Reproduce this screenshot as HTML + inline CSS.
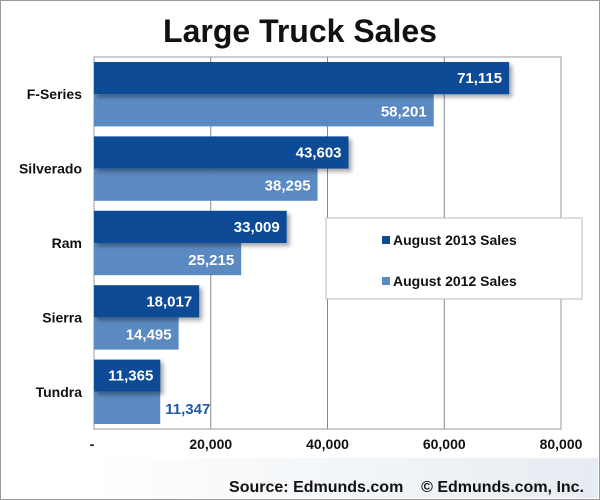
<!DOCTYPE html>
<html><head><meta charset="utf-8"><style>
body{margin:0;width:600px;height:500px;overflow:hidden;background:#fff;font-family:"Liberation Sans",Arial,sans-serif}
#frame{position:absolute;left:0;top:0;width:598px;height:498px;border:1px solid #999}
</style></head><body>
<div id="frame"></div>
<svg id="c" width="600" height="500" style="position:absolute;left:0;top:0">
<defs>
<linearGradient id="foot" x1="0" x2="1"><stop offset="0" stop-color="#fff"/><stop offset="1" stop-color="#e6ecf2"/></linearGradient>
<filter id="sh" x="-5%" y="-10%" width="115%" height="140%"><feDropShadow dx="3" dy="3" stdDeviation="2" flood-color="#000" flood-opacity="0.35"/></filter>
</defs>
<rect x="90" y="458" width="508" height="40" fill="url(#foot)"/>
<text x="300" y="42" text-anchor="middle" font-size="32" font-weight="bold" fill="#111">Large Truck Sales</text>
<g id="grid"></g><g id="bars"></g><g id="labels"></g>
<text x="584" y="492" text-anchor="end" font-size="16" font-weight="bold" fill="#111">Source: Edmunds.com &#160;&#160; © Edmunds.com, Inc.</text>
<g>
<rect x="326" y="218" width="256" height="81" fill="#fff" stroke="#bbb"/>
<rect x="382" y="236" width="8" height="8" fill="#0e4c96"/>
<text x="393" y="245" font-size="14" font-weight="bold" fill="#111">August 2013 Sales</text>
<rect x="382" y="277" width="8" height="8" fill="#5b8ac2"/>
<text x="393" y="286" font-size="14" font-weight="bold" fill="#111">August 2012 Sales</text>
</g>
</svg>
<script>
const categories=["F-Series","Silverado","Ram","Sierra","Tundra"];
const sales2013=[71115,43603,33009,18017,11365];
const sales2012=[58201,38295,25215,14495,11347];
const ticks=[0,20000,40000,60000,80000];
const tickLabels=["-","20,000","40,000","60,000","80,000"];
const NS="http://www.w3.org/2000/svg";
const X0=94,X1=561,Y0=57,Y1=429,XMAX=80000;
const band=(Y1-Y0)/categories.length;
const xs=v=>X0+v/XMAX*(X1-X0);
const fmt=v=>v.toLocaleString("en-US");
function mk(tag,attrs,parent){const e=document.createElementNS(NS,tag);for(const k in attrs)e.setAttribute(k,attrs[k]);parent.appendChild(e);return e;}
const grid=document.getElementById("grid"),bars=document.getElementById("bars"),labels=document.getElementById("labels");
ticks.forEach((t,i)=>{
  if(i>0){const l=mk("line",{x1:xs(t),x2:xs(t),y1:Y0,y2:Y1,stroke:"#888","stroke-width":1},grid);
  
  }
  const tx=mk("text",{x:xs(t)+(i===0?-2:0),y:449,"text-anchor":"middle","font-size":14,"font-weight":"bold",fill:"#111"},labels);
  tx.textContent=tickLabels[i];
  
  
});
const pa=mk("rect",{x:X0,y:Y0,width:X1-X0,height:Y1-Y0,fill:"none",stroke:"#999"},grid);


categories.forEach((c,i)=>{
  const top=Y0+i*band+5,h=(band-10)/2;
  const b2=mk("rect",{x:X0,y:top+h,width:xs(sales2012[i])-X0,height:h,fill:"#5b8ac2"},bars);
  
  
  const b1=mk("rect",{x:X0,y:top,width:xs(sales2013[i])-X0,height:h,fill:"#0e4c96",filter:"url(#sh)"},bars);
  
  
  const l1=mk("text",{x:xs(sales2013[i])-7,y:top+h/2+5,"text-anchor":"end","font-size":15,"font-weight":"bold",fill:"#fff"},labels);
  l1.textContent=fmt(sales2013[i]);
  
  
  const w2=xs(sales2012[i])-X0,inside=w2>75;
  const l2=mk("text",{x:inside?xs(sales2012[i])-7:xs(sales2012[i])+5,y:top+h*1.5+6,"text-anchor":inside?"end":"start","font-size":15,"font-weight":"bold",fill:inside?"#fff":"#1f5aa6"},labels);
  l2.textContent=fmt(sales2012[i]);
  
  
  const cl=mk("text",{x:82,y:Y0+i*band+band/2+5,"text-anchor":"end","font-size":14,"font-weight":"bold",fill:"#111"},labels);
  cl.textContent=c;
  
  
});
</script>
</body></html>
